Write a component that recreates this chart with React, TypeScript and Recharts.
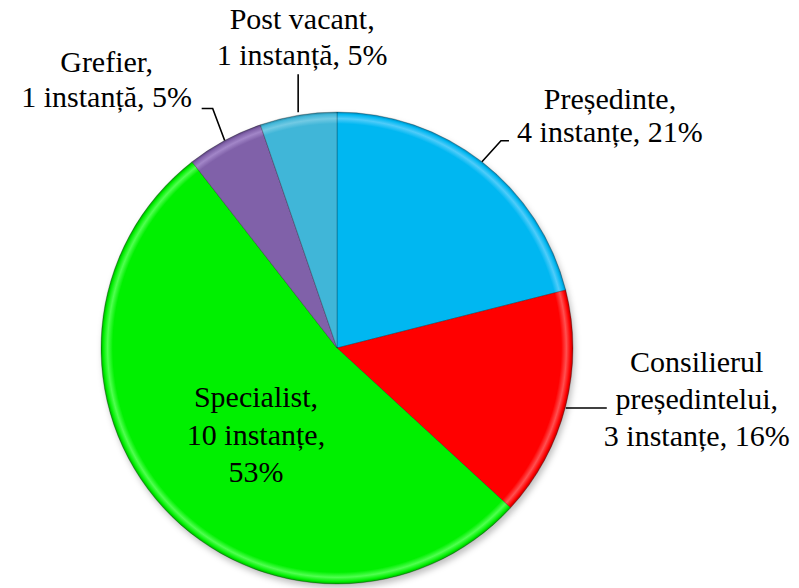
import React from "react";
import { PieChart, Pie, Cell } from "recharts";

// ---- data ----
const categories = ["Președinte", "Consilierul președintelui", "Specialist", "Grefier", "Post vacant"];
const counts = [4, 3, 10, 1, 1];
const units = ["instanțe", "instanțe", "instanțe", "instanță", "instanță"];

// ---- styles ----
const colors = ["#00B7F1", "#FF0000", "#00F000", "#8061A9", "#40B6D8"];
const lights = ["#4FCCFA", "#FF5050", "#50FF50", "#A286C8", "#72CAE4"];
const darks = ["#0081B0", "#B00000", "#00A000", "#553F78", "#287D96"];

const data = categories.map((name, i) => ({ name, value: counts[i], unit: units[i] }));
const total = counts.reduce((a, b) => a + b, 0);

const CX = 337;
const CY = 348;
const R = 236;
const RAD = Math.PI / 180;
const FONT = 30;
const SERIF = "Liberation Serif, Times New Roman, serif";

type Layout = {
  origin: "edge" | "center";
  leader: [number, number][];
  dx: number;
  dy: number;
  lines: number[];
  lineH: number;
};

const layouts: Layout[] = [
  { origin: "edge", leader: [[0, 0], [19, -21], [27, -21]], dx: 128, dy: -53, lines: [1, 2], lineH: 33 },
  { origin: "edge", leader: [[0, 2], [41, 2]], dx: 131, dy: -34, lines: [1, 1, 2], lineH: 37 },
  { origin: "center", leader: [], dx: -81, dy: 59, lines: [1, 1, 1], lineH: 37.5 },
  { origin: "edge", leader: [[0, 0], [-12, -32], [-23, -32]], dx: -118, dy: -68, lines: [1, 2], lineH: 35 },
  { origin: "edge", leader: [[0, -3], [0, -41]], dx: 4, dy: -86, lines: [2, 2], lineH: 36 },
];

const midAngles = (() => {
  let acc = 0;
  return counts.map((v) => {
    const start = 90 - (acc / total) * 360;
    acc += v;
    const end = 90 - (acc / total) * 360;
    return (start + end) / 2;
  });
})();

const renderLabel = (props: any) => {
  const { index } = props;
  const cx = typeof props.cx === "number" ? props.cx : CX;
  const cy = typeof props.cy === "number" ? props.cy : CY;
  const outerRadius = typeof props.outerRadius === "number" ? props.outerRadius : R;
  const midAngle = typeof props.midAngle === "number" ? props.midAngle : midAngles[index];
  const lay = layouts[index];
  const ex = cx + outerRadius * Math.cos(-midAngle * RAD);
  const ey = cy + outerRadius * Math.sin(-midAngle * RAD);
  const ox = lay.origin === "edge" ? ex : cx;
  const oy = lay.origin === "edge" ? ey : cy;

  const d = data[index];
  const pct = Math.round((d.value / total) * 100);
  const words = d.name.split(" ");
  words[words.length - 1] = words[words.length - 1] + ",";
  const tokens = [...words, `${d.value} ${d.unit},`, `${pct}%`];
  const lines: string[] = [];
  let p = 0;
  lay.lines.forEach((n) => {
    lines.push(tokens.slice(p, p + n).join(" "));
    p += n;
  });
  const pts = lay.leader.map(([x, y]) => `${ex + x},${ey + y}`).join(" ");
  return (
    <g key={`lbl-${index}`}>
      {lay.leader.length > 0 && <polyline points={pts} fill="none" stroke="#000" strokeWidth={1.6} />}
      {lines.map((l, k) => (
        <text
          key={k}
          x={ox + lay.dx}
          y={oy + lay.dy + k * lay.lineH}
          textAnchor="middle"
          fontFamily={SERIF}
          fontSize={FONT}
          fill="#000"
          style={{ fontFamily: SERIF }}
        >
          {l}
        </text>
      ))}
    </g>
  );
};

export default function App() {
  return (
    <div style={{ position: "absolute", left: 0, top: 0, width: 799, height: 588, background: "#fff", fontFamily: SERIF }}>
      <span
        aria-hidden="true"
        style={{ position: "absolute", left: 0, top: 0, fontFamily: SERIF, fontSize: 30, color: "#fff", opacity: 0.01 }}
      >
        Președinte
      </span>
      <svg width={0} height={0} style={{ position: "absolute" }}>
        <defs>
          {colors.map((c, i) => (
            <radialGradient key={i} id={`grad${i}`} gradientUnits="userSpaceOnUse" cx={CX} cy={CY} r={R}>
              <stop offset="0" stopColor={c} />
              <stop offset="0.95" stopColor={c} />
              <stop offset="0.972" stopColor={lights[i]} />
              <stop offset="0.99" stopColor={c} />
              <stop offset="1" stopColor={darks[i]} />
            </radialGradient>
          ))}
          <filter id="shadowBlur" x="-20%" y="-20%" width="140%" height="140%">
            <feGaussianBlur stdDeviation="3" />
          </filter>
        </defs>
      </svg>
      <PieChart width={799} height={588} margin={{ top: 0, right: 0, bottom: 0, left: 0 }}>
        <Pie
          data={data}
          dataKey="value"
          cx={CX + 2}
          cy={CY + 4}
          outerRadius={R}
          startAngle={90}
          endAngle={-270}
          stroke="none"
          isAnimationActive={false}
          label={false}
          labelLine={false}
        >
          {data.map((_, i) => (
            <Cell key={i} fill="#000" fillOpacity={0.25} filter="url(#shadowBlur)" />
          ))}
        </Pie>
        <Pie
          data={data}
          dataKey="value"
          cx={CX}
          cy={CY}
          outerRadius={R}
          startAngle={90}
          endAngle={-270}
          stroke="rgba(0,0,0,0.3)"
          strokeWidth={0.8}
          isAnimationActive={false}
          label={renderLabel}
          labelLine={false}
        >
          {data.map((_, i) => (
            <Cell key={i} fill={`url(#grad${i})`} />
          ))}
        </Pie>
      </PieChart>
    </div>
  );
}
